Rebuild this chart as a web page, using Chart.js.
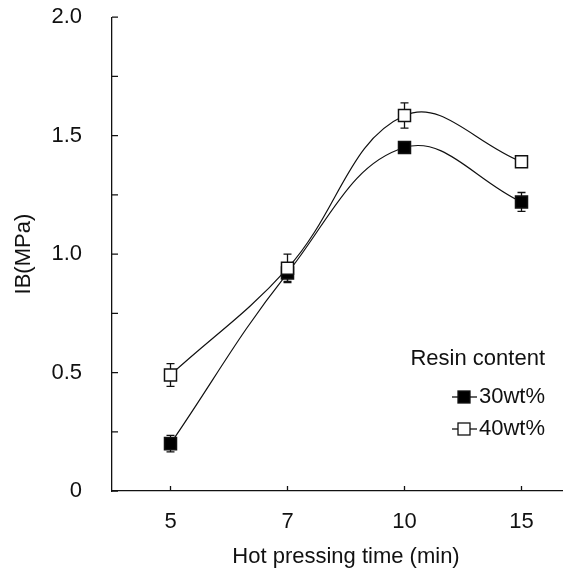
<!DOCTYPE html>
<html>
<head>
<meta charset="utf-8">
<script src="https://cdn.jsdelivr.net/npm/chart.js@4/dist/chart.umd.min.js"></script>
<style>
  html, body { margin: 0; padding: 0; background: #fff; overflow: hidden; }
  #wrap { width: 590px; height: 573px; }
</style>
</head>
<body>
<div id="wrap"><canvas id="chart" width="590" height="573"></canvas></div>
<script>
// data
const times = ['5', '7', '10', '15'];
const resin30 = [0.20, 0.92, 1.45, 1.22];
const resin30Err = [0.035, 0.035, 0.02, 0.04];
const resin40 = [0.49, 0.94, 1.585, 1.39];
const resin40Err = [0.048, 0.06, 0.053, 0.02];
const yLabels = ['0', '0.5', '1.0', '1.5', '2.0'];
const seriesNames = ['30wt%', '40wt%'];

const FONT = "'Liberation Sans', Arial, sans-serif";
const INK = '#111';

const extras = {
    id: 'extras',
    beforeDatasetsDraw(chart) {
        const { ctx, scales: { x, y } } = chart;
        ctx.save();
        ctx.strokeStyle = INK;
        ctx.lineWidth = 1.3;
        [[resin30, resin30Err], [resin40, resin40Err]].forEach(([vals, errs]) => {
            vals.forEach((v, i) => {
                const px = x.getPixelForValue(i);
                const top = y.getPixelForValue(v + errs[i]);
                const bot = y.getPixelForValue(v - errs[i]);
                ctx.beginPath();
                ctx.moveTo(px, top); ctx.lineTo(px, bot);
                ctx.moveTo(px - 4, top); ctx.lineTo(px + 4, top);
                ctx.moveTo(px - 4, bot); ctx.lineTo(px + 4, bot);
                ctx.stroke();
            });
        });
        ctx.restore();
    },
    afterDraw(chart) {
        const { ctx, chartArea, scales: { x, y } } = chart;
        ctx.save();
        ctx.strokeStyle = INK;
        ctx.lineWidth = 1.3;
        // inward tick marks
        ctx.beginPath();
        y.ticks.forEach(t => {
            const py = y.getPixelForValue(t.value);
            ctx.moveTo(chartArea.left, py);
            ctx.lineTo(chartArea.left + 6, py);
        });
        times.forEach((_, i) => {
            const px = x.getPixelForValue(i);
            ctx.moveTo(px, chartArea.bottom);
            ctx.lineTo(px, chartArea.bottom - 5);
        });
        ctx.stroke();

        // legend
        ctx.fillStyle = INK;
        ctx.font = '22px ' + FONT;
        ctx.textBaseline = 'middle';
        ctx.textAlign = 'right';
        ctx.fillText('Resin content', 545, 359);
        ctx.textAlign = 'left';
        chart.data.datasets.forEach((ds, i) => {
            const ly = 397 + i * 32;
            ctx.beginPath();
            ctx.moveTo(452, ly);
            ctx.lineTo(477, ly);
            ctx.stroke();
            ctx.fillStyle = ds.pointBackgroundColor;
            ctx.fillRect(458, ly - 6, 12, 12);
            ctx.strokeRect(458, ly - 6, 12, 12);
            ctx.fillStyle = INK;
            ctx.fillText(ds.label, 479, ly);
        });
        ctx.restore();
    }
};

const ctx = document.getElementById('chart').getContext('2d');
const chart = new Chart(ctx, {
    type: 'line',
    data: {
        labels: times,
        datasets: [{
            label: seriesNames[0],
            data: resin30,
            borderColor: INK,
            borderWidth: 1.2,
            tension: 0.4,
            pointStyle: 'rect',
            pointRadius: 8.5,
            pointBorderWidth: 1.5,
            pointBorderColor: INK,
            pointBackgroundColor: '#000',
            order: 2
        }, {
            label: seriesNames[1],
            data: resin40,
            borderColor: INK,
            borderWidth: 1.2,
            tension: 0.4,
            pointStyle: 'rect',
            pointRadius: 8.5,
            pointBorderWidth: 1.5,
            pointBorderColor: INK,
            pointBackgroundColor: '#fff',
            order: 1
        }]
    },
    options: {
        responsive: false,
        animation: false,
        layout: { padding: { top: 16, right: 8, left: 0, bottom: 0 } },
        plugins: { legend: { display: false }, tooltip: { enabled: false } },
        scales: {
            x: {
                type: 'category',
                offset: true,
                grid: { display: false, drawTicks: false },
                border: { display: true, color: INK, width: 1.3 },
                ticks: { color: INK, padding: 18, font: { family: FONT, size: 22 } },
                title: {
                    display: true,
                    text: 'Hot pressing time (min)',
                    color: INK,
                    font: { family: FONT, size: 22 },
                    padding: 3
                },
                afterFit: s => { s.height = 82; }
            },
            y: {
                min: 0,
                max: 2,
                grid: { display: false, drawTicks: true, tickLength: 26 },
                border: { display: true, color: INK, width: 1.3 },
                ticks: {
                    stepSize: 0.25,
                    color: INK,
                    padding: 4,
                    font: { family: FONT, size: 22 },
                    callback: v => (v * 2) % 1 === 0 ? yLabels[v * 2] : ''
                },
                title: {
                    display: true,
                    text: 'IB(MPa)',
                    color: INK,
                    font: { family: FONT, size: 22 },
                    padding: 11
                },
                afterFit: s => { s.width = 112; }
            }
        }
    },
    plugins: [extras]
});
</script>
</body>
</html>
